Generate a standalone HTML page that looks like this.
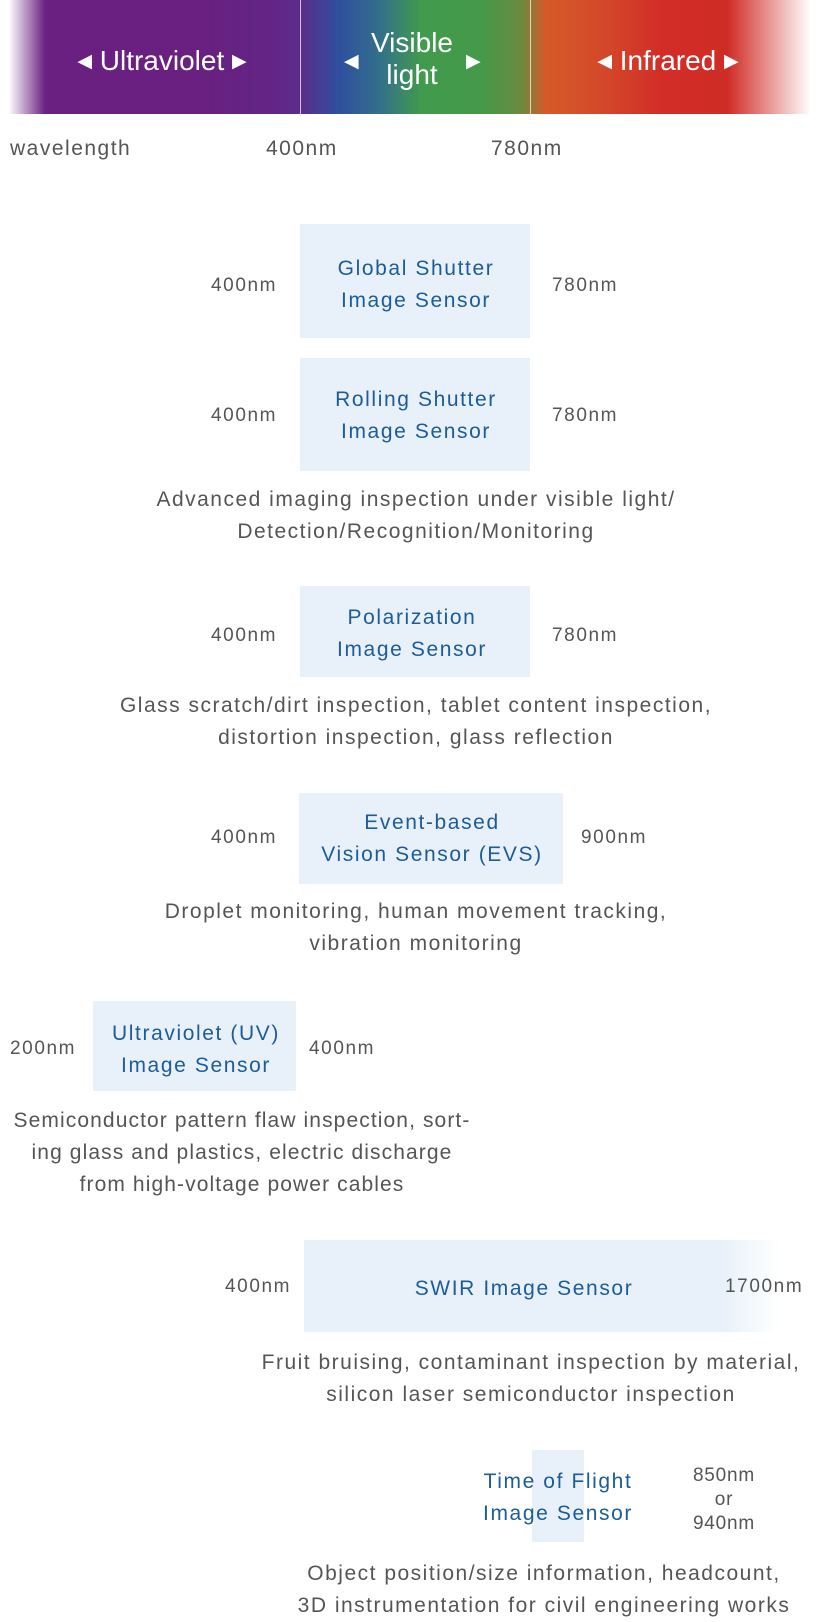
<!DOCTYPE html>
<html><head><meta charset="utf-8">
<style>
html,body{margin:0;padding:0;background:#fff;}
body{width:827px;height:1600px;position:relative;overflow:hidden;font-family:"Liberation Sans",sans-serif;}
.a{position:absolute;white-space:nowrap;}
.c{transform:translateX(-50%);text-align:center;}
.box{position:absolute;background:#e8f1f9;}
.bl{color:#1c5c98;font-size:21px;line-height:32px;letter-spacing:1.6px;}
.nm{color:#555;font-size:19px;line-height:22px;letter-spacing:1.6px;}
.d{color:#555;font-size:21px;line-height:32px;letter-spacing:1.5px;}
.w{color:#fff;font-size:28px;line-height:32px;}
.tri{font-size:19px;vertical-align:3px;}
</style></head><body>
<div style="position:absolute;left:0;top:0;width:827px;height:114px;background:linear-gradient(to right,rgba(104,32,128,0) 1%,#692080 5.5%,#692080 25%,#622585 33%,#5a2d8c 36.4%,#2e4f9e 41%,#33708a 46%,#419b4c 51%,#449a49 58%,#6a8a40 63%,#d75a2a 66%,#d34b2a 72%,#d22e27 80%,#d02c26 88%,rgba(208,44,38,0) 98%);"></div>
<div style="position:absolute;left:300px;top:0;width:1px;height:114px;background:rgba(255,255,255,.7)"></div>
<div style="position:absolute;left:530px;top:0;width:1px;height:114px;background:rgba(255,255,255,.7)"></div>
<div class="a c w" style="left:162px;top:45px"><span class="tri">◀</span> Ultraviolet <span class="tri">▶</span></div>
<div class="a c w" style="left:412px;top:27px">Visible<br>light</div>
<div class="a w" style="left:344px;top:45px"><span class="tri">◀</span></div>
<div class="a w" style="left:466px;top:45px"><span class="tri">▶</span></div>
<div class="a c w" style="left:668px;top:45px"><span class="tri">◀</span> Infrared <span class="tri">▶</span></div>
<div class="a" style="left:10px;top:137px;font-size:21px;color:#555;letter-spacing:1.5px">wavelength</div>
<div class="a" style="left:266px;top:137px;font-size:21px;color:#555;letter-spacing:1.5px">400nm</div>
<div class="a" style="left:491px;top:137px;font-size:21px;color:#555;letter-spacing:1.5px">780nm</div>

<div class="box" style="left:300px;top:224px;width:230px;height:114px"></div>
<div class="a c bl" style="left:416px;top:253px">Global Shutter<br>Image Sensor</div>
<div class="a nm" style="left:211px;top:275px">400nm</div>
<div class="a nm" style="left:552px;top:275px">780nm</div>

<div class="box" style="left:300px;top:358px;width:230px;height:113px"></div>
<div class="a c bl" style="left:416px;top:384px">Rolling Shutter<br>Image Sensor</div>
<div class="a nm" style="left:211px;top:405px">400nm</div>
<div class="a nm" style="left:552px;top:405px">780nm</div>
<div class="a c d" style="left:416px;top:484px">Advanced imaging inspection under visible light/<br>Detection/Recognition/Monitoring</div>

<div class="box" style="left:300px;top:586px;width:230px;height:91px"></div>
<div class="a c bl" style="left:412px;top:602px">Polarization<br>Image Sensor</div>
<div class="a nm" style="left:211px;top:625px">400nm</div>
<div class="a nm" style="left:552px;top:625px">780nm</div>
<div class="a c d" style="left:416px;top:690px">Glass scratch/dirt inspection, tablet content inspection,<br>distortion inspection, glass reflection</div>

<div class="box" style="left:299px;top:793px;width:264px;height:91px"></div>
<div class="a c bl" style="left:432px;top:807px">Event-based<br>Vision Sensor (EVS)</div>
<div class="a nm" style="left:211px;top:827px">400nm</div>
<div class="a nm" style="left:581px;top:827px">900nm</div>
<div class="a c d" style="left:416px;top:896px">Droplet monitoring, human movement tracking,<br>vibration monitoring</div>

<div class="box" style="left:93px;top:1001px;width:203px;height:90px"></div>
<div class="a c bl" style="left:196px;top:1018px">Ultraviolet (UV)<br>Image Sensor</div>
<div class="a nm" style="left:10px;top:1038px">200nm</div>
<div class="a nm" style="left:309px;top:1038px">400nm</div>
<div class="a c d" style="left:242px;top:1105px;letter-spacing:1.1px">Semiconductor pattern flaw inspection, sort-<br>ing glass and plastics, electric discharge<br>from high-voltage power cables</div>

<div class="box" style="left:304px;top:1240px;width:476px;height:92px;background:linear-gradient(to right,#e8f1f9 0%,#e8f1f9 88%,rgba(232,241,249,0) 100%)"></div>
<div class="a c bl" style="left:524px;top:1273px">SWIR Image Sensor</div>
<div class="a nm" style="left:225px;top:1276px">400nm</div>
<div class="a nm" style="left:725px;top:1276px">1700nm</div>
<div class="a c d" style="left:531px;top:1347px">Fruit bruising, contaminant inspection by material,<br>silicon laser semiconductor inspection</div>

<div class="box" style="left:532px;top:1450px;width:52px;height:92px"></div>
<div class="a c bl" style="left:558px;top:1466px">Time of Flight<br>Image Sensor</div>
<div class="a c nm" style="left:724px;top:1464px;line-height:24px;letter-spacing:0.8px">850nm<br>or<br>940nm</div>
<div class="a c d" style="left:544px;top:1558px">Object position/size information, headcount,<br>3D instrumentation for civil engineering works</div>
</body></html>
